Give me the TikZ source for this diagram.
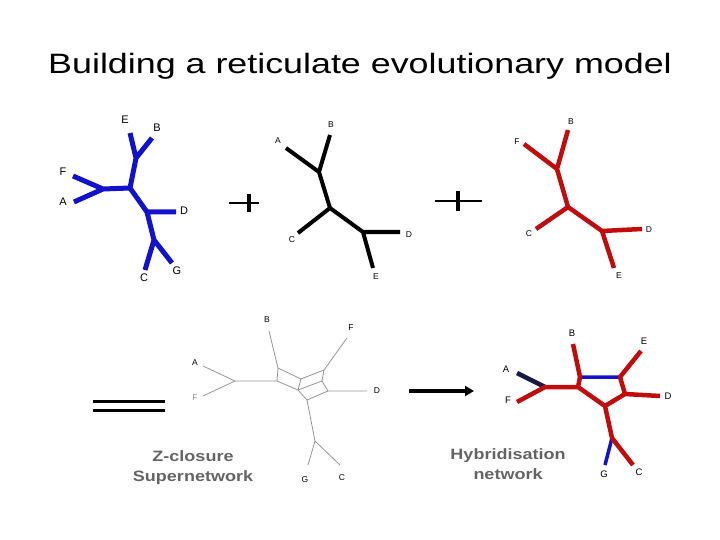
\documentclass[tikz,border=0pt]{standalone}
\usepackage{fontspec}
\setmainfont{Liberation Sans}
\usetikzlibrary{arrows.meta}
\definecolor{treeblue}{RGB}{18,18,204}
\definecolor{treered}{RGB}{192,12,12}
\definecolor{navyedge}{RGB}{25,25,70}
\definecolor{splitgray}{RGB}{150,150,150}
\definecolor{captiongray}{RGB}{100,100,100}

\begin{document}
\begin{tikzpicture}[x=1pt, y=-1pt,
  leaf/.style={inner sep=0pt, font=\fontsize{#1}{10}\selectfont},
  leaf/.default=8.5,
  caption/.style={align=center, text=captiongray, font=\fontsize{15}{20}\selectfont\bfseries},
  branch/.style={line width=#1, line join=round},
  branch/.default=4.5pt]
  \useasboundingbox (0,0) rectangle (720,540);

  \node (title) at (360,66) {\scalebox{1.28}[1]{\fontsize{28}{32}\selectfont Building a reticulate evolutionary model}};

  % first tree (blue)
  \coordinate (bE) at (130,133);   \coordinate (bB) at (152,138);
  \coordinate (bEB) at (136,158);  \coordinate (bR) at (130,188);
  \coordinate (bFA) at (103,189);  \coordinate (bF) at (73,176);
  \coordinate (bA) at (74,202);    \coordinate (bDj) at (147,212);
  \coordinate (bD) at (176,212);   \coordinate (bCG) at (154,240);
  \coordinate (bC) at (145,270);   \coordinate (bG) at (172,263);
  \draw[treeblue, branch=5pt] (bE) -- (bEB) -- (bB) (bEB) -- (bR) -- (bFA) -- (bF)
    (bFA) -- (bA) (bR) -- (bDj) -- (bD) (bDj) -- (bCG) -- (bC) (bCG) -- (bG);
  \node[leaf=11] (lbE) at (125,120) {E};
  \node[leaf=11] (lbB) at (157,128) {B};
  \node[leaf=11] (lbF) at (63,172) {F};
  \node[leaf=11] (lbA) at (63,202) {A};
  \node[leaf=11] (lbD) at (184,211) {D};
  \node[leaf=11] (lbC) at (144,278) {C};
  \node[leaf=11] (lbG) at (177,271) {G};

  % plus
  \draw[line width=2pt] (229,203) -- (259,203);
  \draw[line width=4.5pt] (249,194) -- (249,212);

  % second tree (black)
  \coordinate (kA) at (286,148);   \coordinate (kB) at (330,135);
  \coordinate (kAB) at (319,172);  \coordinate (kM) at (330,208);
  \coordinate (kC) at (298,233);   \coordinate (kDE) at (363,232);
  \coordinate (kD) at (400,232);   \coordinate (kE) at (373,268);
  \draw[branch=4pt] (kA) -- (kAB) -- (kB) (kAB) -- (kM) -- (kC)
    (kM) -- (kDE) -- (kD) (kDE) -- (kE);
  \node[leaf] (lkA) at (278,141) {A};
  \node[leaf] (lkB) at (331,125) {B};
  \node[leaf] (lkC) at (292,240) {C};
  \node[leaf] (lkD) at (409,235) {D};
  \node[leaf] (lkE) at (376,277) {E};

  % plus
  \draw[line width=2pt] (435,201) -- (482,201);
  \draw[line width=4.5pt] (458,191) -- (458,211);

  % third tree (red)
  \coordinate (rB) at (568,130);   \coordinate (rF) at (524,144);
  \coordinate (rFB) at (557,169);  \coordinate (rM) at (568,207);
  \coordinate (rC) at (536,229);   \coordinate (rDE) at (602,231);
  \coordinate (rD) at (642,229);   \coordinate (rE) at (614,268);
  \draw[treered, branch] (rF) -- (rFB) -- (rB) (rFB) -- (rM) -- (rC)
    (rM) -- (rDE) -- (rD) (rDE) -- (rE);
  \node[leaf] (lrB) at (571,122) {B};
  \node[leaf] (lrF) at (517,142) {F};
  \node[leaf] (lrC) at (529,234) {C};
  \node[leaf] (lrD) at (649,230) {D};
  \node[leaf] (lrE) at (619,276) {E};

  % equals
  \draw[line width=3pt] (93,401) -- (165,401) (93,410.5) -- (165,410.5);

  % Z-closure supernetwork
  \coordinate (sA) at (203,366);   \coordinate (sF) at (203,396);
  \coordinate (sAF) at (235,381);  \coordinate (sB) at (269,331);
  \coordinate (p1) at (278,368);   \coordinate (p2) at (277,381);
  \coordinate (p3) at (301,379);   \coordinate (p4) at (298,390);
  \coordinate (p5) at (324,370);   \coordinate (p6) at (322,381);
  \coordinate (p7) at (328,391);   \coordinate (p8) at (307,400);
  \coordinate (sFr) at (347,338);  \coordinate (sD) at (367,391);
  \coordinate (sCG) at (315,441);  \coordinate (sG) at (308,465);
  \coordinate (sC) at (340,465);
  \draw[splitgray, line width=0.8pt] (sA) -- (sAF) -- (sF) (sAF) -- (p2) -- (p1) -- (sB)
    (p1) -- (p3) -- (p4) -- (p2) (p3) -- (p5) -- (p6) -- (p4) (p5) -- (sFr)
    (p6) -- (p7) -- (p8) -- (p4) (p7) -- (sD) (p8) -- (sCG) -- (sG) (sCG) -- (sC);
  \node[leaf] (lsB) at (267,320) {B};
  \node[leaf] (lsA) at (195,363) {A};
  \node[leaf, text=black!45] (lsF) at (195,398) {F};
  \node[leaf] (lsFr) at (351,328) {F};
  \node[leaf] (lsD) at (377,391) {D};
  \node[leaf] (lsG) at (305,480) {G};
  \node[leaf] (lsC) at (342,478) {C};
  \node[caption] (zcap) at (193,468) {\scalebox{1.2}[1]{Z-closure}\\\scalebox{1.2}[1]{Supernetwork}};

  % arrow
  \coordinate (arrtail) at (409,391);
  \coordinate (arrtip) at (474,391);
  \draw[line width=4pt, -{Triangle[length=9pt, width=10pt]}] (arrtail) -- (arrtip);

  % hybridisation network
  \coordinate (hB) at (573,344);   \coordinate (hX) at (580,377);
  \coordinate (hY) at (578,387);   \coordinate (hAF) at (545,387);
  \coordinate (hA) at (517,373);   \coordinate (hF) at (517,402);
  \coordinate (hE) at (641,351);   \coordinate (hEj) at (620,377);
  \coordinate (hDj) at (625,394);  \coordinate (hD) at (660,396);
  \coordinate (hM) at (605,406);   \coordinate (hCG) at (612,438);
  \coordinate (hC) at (633,465);   \coordinate (hG) at (605,465);
  \draw[navyedge, branch] (hA) -- (hAF);
  \draw[treeblue, branch=3.5pt] (hX) -- (hEj) (hCG) -- (hG);
  \draw[treered, branch] (hB) -- (hX) -- (hY) -- (hAF) -- (hF) (hY) -- (hM) -- (hDj) -- (hD)
    (hDj) -- (hEj) -- (hE) (hM) -- (hCG) -- (hC);
  \node[leaf=9.5] (lhB) at (572,333) {B};
  \node[leaf=9.5] (lhE) at (644,341) {E};
  \node[leaf=9.5] (lhA) at (506,369) {A};
  \node[leaf=9.5] (lhF) at (508,400) {F};
  \node[leaf=9.5] (lhD) at (668,396) {D};
  \node[leaf=9.5] (lhG) at (604,474) {G};
  \node[leaf=9.5] (lhC) at (639,472) {C};
  \node[caption] (hcap) at (508,464) {\scalebox{1.2}[1]{Hybridisation}\\\scalebox{1.2}[1]{network}};
\end{tikzpicture}
\end{document}
